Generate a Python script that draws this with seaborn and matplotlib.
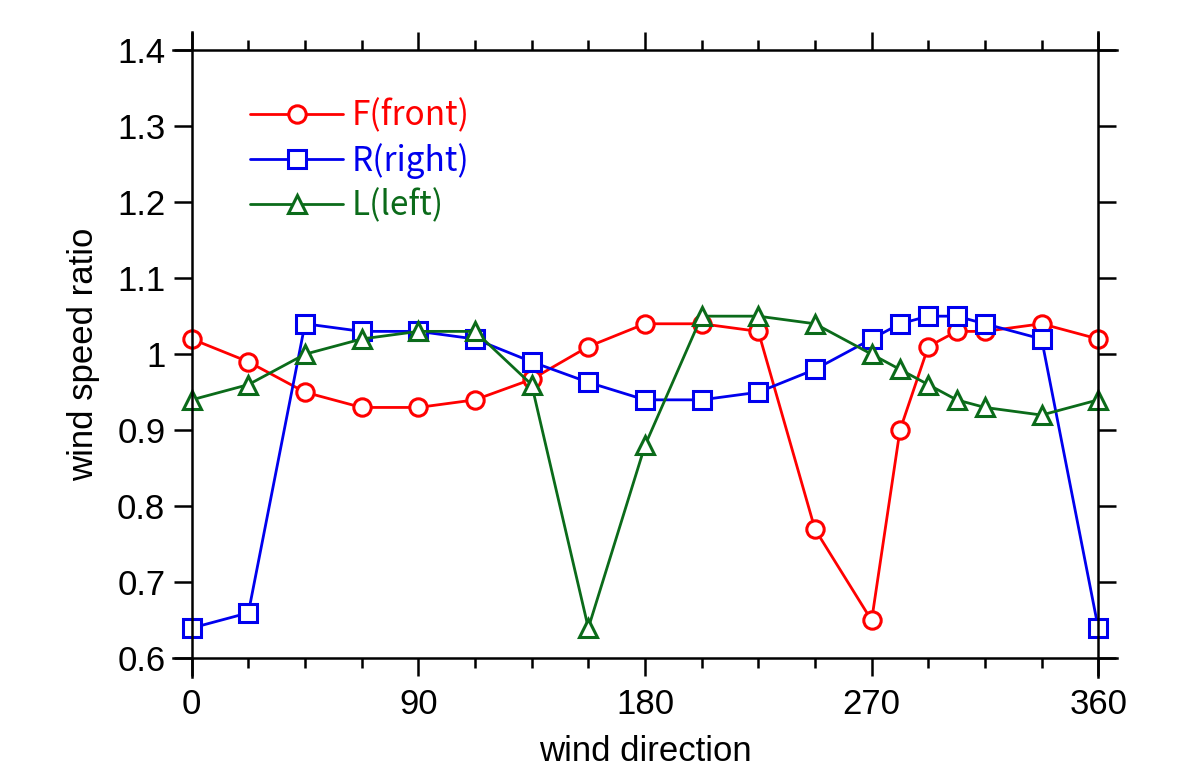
import numpy as np
import pandas as pd
import matplotlib
matplotlib.use("Agg")
import matplotlib.pyplot as plt
import seaborn as sns
from matplotlib.ticker import MultipleLocator, FuncFormatter

direction = [0, 22.5, 45, 67.5, 90, 112.5, 135, 157.5, 180, 202.5, 225, 247.5,
             270, 281.25, 292.5, 303.75, 315, 337.5, 360]
front = [1.02, 0.99, 0.95, 0.93, 0.93, 0.94, 0.967, 1.01, 1.04, 1.04, 1.03, 0.77,
         0.65, 0.90, 1.01, 1.03, 1.03, 1.04, 1.02]
right = [0.64, 0.66, 1.04, 1.03, 1.03, 1.02, 0.99, 0.963, 0.94, 0.94, 0.95, 0.98,
         1.02, 1.04, 1.05, 1.05, 1.04, 1.02, 0.64]
left = [0.94, 0.96, 1.00, 1.02, 1.03, 1.03, 0.96, 0.64, 0.88, 1.05, 1.05, 1.04,
        1.00, 0.98, 0.96, 0.94, 0.93, 0.92, 0.94]

labels = ["F(front)", "R(right)", "L(left)"]
colors = ["#ff0000", "#0000ee", "#0b6b1a"]
markers = ["o", "s", "^"]

sns.set_theme(style="white")
plt.rcParams["font.family"] = ["Liberation Sans", "DejaVu Sans"]
plt.rcParams["text.color"] = "black"
plt.rcParams["axes.labelcolor"] = "black"
plt.rcParams["xtick.color"] = "black"
plt.rcParams["ytick.color"] = "black"

fig = plt.figure(figsize=(11.84, 7.67), dpi=100)
ax = fig.add_axes([0.1464, 0.1177, 0.7967, 0.841])

series = [front, right, left]
for vals, lab, col, mk in zip(series, labels, colors, markers):
    sns.lineplot(x=direction, y=vals, ax=ax, color=col, label=lab, marker=mk,
                 markersize=12.5, markerfacecolor="white", markeredgecolor=col,
                 markeredgewidth=2.2, linewidth=2.0, sort=False)

ax.set_xlim(-7.3, 367.3)
ax.set_ylim(0.576, 1.424)

for side, pos in [("left", 0), ("right", 360), ("bottom", 0.6), ("top", 1.4)]:
    ax.spines[side].set_position(("data", pos))
    ax.spines[side].set_visible(True)
    ax.spines[side].set_color("black")
    ax.spines[side].set_linewidth(1.8)

ax.xaxis.set_major_locator(MultipleLocator(90))
ax.xaxis.set_minor_locator(MultipleLocator(22.5))
ax.yaxis.set_major_locator(MultipleLocator(0.1))
ax.yaxis.set_major_formatter(FuncFormatter(lambda v, p: f"{v:g}"))

ax.tick_params(which="both", direction="out", top=True, right=True,
               bottom=True, left=True, color="black", width=1.8,
               labeltop=False, labelright=False, labelcolor="black")
ax.tick_params(which="major", length=13, labelsize=25)
ax.tick_params(axis="x", which="major", pad=8)
ax.tick_params(axis="y", which="major", pad=6)
ax.tick_params(which="minor", length=7)
ax.tick_params(axis="y", which="minor", left=False, right=False)

ax.set_xlabel("wind direction", fontsize=25, labelpad=10, color="black")
ax.set_ylabel("wind speed ratio", fontsize=25, labelpad=12, color="black")
ax.grid(False)

leg = ax.legend(loc="upper left", bbox_to_anchor=(0.0813, 0.896), frameon=False,
                prop={"family": ["Noto Sans CJK JP"], "size": 24},
                handlelength=2.79, handletextpad=0.27, labelspacing=0.28,
                borderpad=0, borderaxespad=0)
for txt, col in zip(leg.get_texts(), colors):
    txt.set_color(col)

fig.savefig("out.png", dpi=100)
